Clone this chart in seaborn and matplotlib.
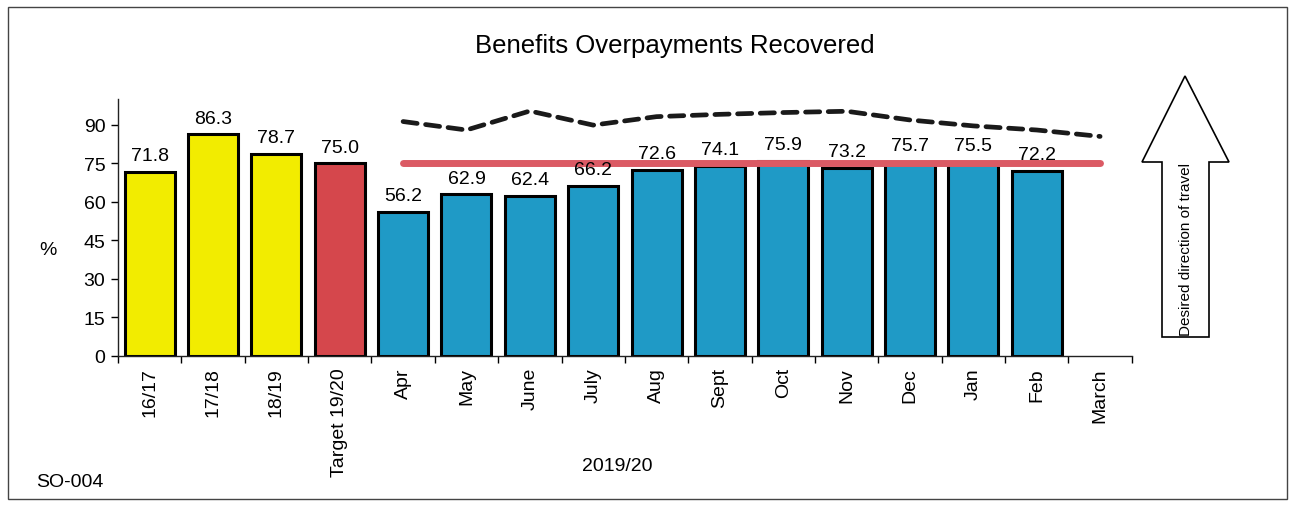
import numpy as np
import matplotlib
matplotlib.use("Agg")
import matplotlib.pyplot as plt
import matplotlib.patches as mpatches
import seaborn as sns

# Data
categories = ["16/17", "17/18", "18/19", "Target 19/20", "Apr", "May", "June", "July",
              "Aug", "Sept", "Oct", "Nov", "Dec", "Jan", "Feb", "March"]
values = [71.8, 86.3, 78.7, 75.0, 56.2, 62.9, 62.4, 66.2,
          72.6, 74.1, 75.9, 73.2, 75.7, 75.5, 72.2, np.nan]
bar_groups = ["year", "year", "year", "target"] + ["month"] * 12
previous_year = [91.3, 88.0, 95.4, 89.9, 93.2, 94.1, 94.8, 95.3, 91.9, 89.6, 88.0, 85.5]
target = 75.0
yticks = [0, 15, 30, 45, 60, 75, 90]

group_colors = {"year": "#F2EC00", "target": "#D5474C", "month": "#1F9AC6"}
colors = [group_colors[g] for g in bar_groups]

sns.set_style("white")
plt.rcParams["font.family"] = ["Liberation Sans", "DejaVu Sans"]
plt.rcParams["text.color"] = "black"
plt.rcParams["xtick.color"] = "black"
plt.rcParams["ytick.color"] = "black"

fig = plt.figure(figsize=(12.92, 5.06), dpi=100)
ax = fig.add_axes([0.0913, 0.2945, 0.7847, 0.5075])

sns.barplot(x=categories, y=values, hue=categories, palette=colors, legend=False,
            width=0.79, edgecolor="black", linewidth=2.2, saturation=1, ax=ax)

# monthly positions follow the category order on the axis
month_pos = np.arange(4, len(categories))
ax.plot([month_pos[0], month_pos[-1]], [target, target], color="#DB5A64",
        lw=5, solid_capstyle="round", zorder=4)
sns.lineplot(x=month_pos, y=previous_year, color="#1a1a1a", lw=3.4,
             linestyle=(0, (3.0, 1.8)), dash_capstyle="round", ax=ax, zorder=5)

for i, v in enumerate(values):
    if not np.isnan(v):
        ax.text(i, v + 3.0, f"{v:.1f}", ha="center", va="bottom", fontsize=14, zorder=6)

ax.set_xlim(-0.5, len(categories) - 0.5)
ax.set_ylim(0, 100)
ax.set_yticks(yticks)
ax.tick_params(axis="y", labelsize=14, length=5, width=1, direction="out", left=True, pad=4)
ax.set_xticks(range(len(categories)))
ax.set_xticklabels(categories, rotation=90, fontsize=14)
ax.tick_params(axis="x", which="major", length=0, pad=8)
ax.set_xticks(np.arange(-0.5, len(categories)), minor=True)
ax.tick_params(axis="x", which="minor", length=5, width=1, direction="out", bottom=True)
for s in ["top", "right"]:
    ax.spines[s].set_visible(False)
for s in ["left", "bottom"]:
    ax.spines[s].set_color("#222222")
    ax.spines[s].set_linewidth(1)
ax.set_xlabel("")
ax.set_ylabel("")

fig.text(0.5224, 0.91, "Benefits Overpayments Recovered", ha="center", va="center", fontsize=18.5)
fig.text(0.037, 0.505, "%", ha="center", va="center", fontsize=14)
fig.text(0.478, 0.079, "2019/20", ha="center", va="center", fontsize=14)
fig.text(0.054, 0.047, "SO-004", ha="center", va="center", fontsize=14)

# "desired direction" arrow, in pixel-ish figure fractions
W, H = 1292, 506
pts = [(1162, 338), (1209, 338), (1209, 163), (1229, 163), (1185, 77),
       (1142, 163), (1162, 163)]
arrow = mpatches.Polygon([(x / W, 1 - y / H) for x, y in pts], closed=True,
                         facecolor="white", edgecolor="black", lw=1.2,
                         transform=fig.transFigure)
fig.patches.append(arrow)
fig.text(1186 / W, 1 - 250 / H, "Desired direction of travel", rotation=90,
         ha="center", va="center", fontsize=11)

# outer frame
frame = mpatches.Rectangle((8 / W, 1 - 500 / H), 1279 / W, 492 / H, fill=False,
                           edgecolor="#444444", lw=1, transform=fig.transFigure)
fig.patches.append(frame)

fig.savefig("out.png", dpi=100)
